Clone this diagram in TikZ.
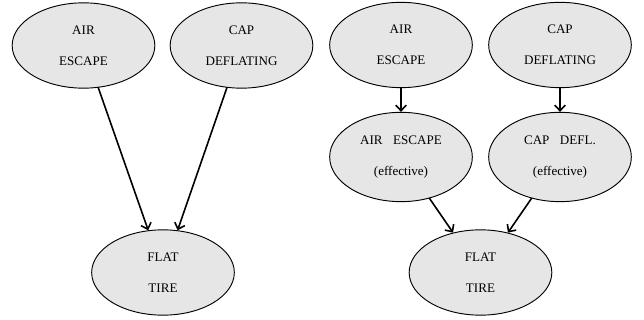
\documentclass[tikz,border=0pt]{standalone}
\usepackage{fontspec}
\setmainfont{Liberation Serif}
\usetikzlibrary{arrows.meta,shapes.geometric}
\definecolor{nodefill}{RGB}{230,230,230}

\begin{document}
\begin{tikzpicture}[x=.75pt,y=-.75pt,line cap=round,line join=round,
    >={Straight Barb[length=4.2pt,width=8pt]},
    font=\fontsize{9.8}{11}\selectfont,
    event/.style={ellipse,draw=black,line width=.7pt,fill=nodefill,
      minimum width=107pt,minimum height=64pt,inner sep=0pt,align=center},
    cause/.style={->,line width=1.2pt}]
  \useasboundingbox (0,0) rectangle (644,320);

  % network without effective nodes
  \node[event] (AirL)  at (83.5,45.5)  {AIR\\[12pt]ESCAPE};
  \node[event] (CapL)  at (241.5,45.5) {CAP\\[12pt]DEFLATING};
  \node[event] (FlatL) at (163,272.5)  {FLAT\\[12pt]TIRE};
  \draw[cause] (AirL) -- (FlatL);
  \draw[cause] (CapL) -- (FlatL);

  % network with effective nodes
  \node[event] (AirR)   at (401,45)     {AIR\\[12pt]ESCAPE};
  \node[event] (CapR)   at (560,45)     {CAP\\[12pt]DEFLATING};
  \node[event,minimum height=67pt] (AirEff) at (401,157) {AIR\hspace{.8em}ESCAPE\\[12.5pt](effective)};
  \node[event,minimum height=67pt] (CapEff) at (560,157) {CAP\hspace{.8em}DEFL.\\[12.5pt](effective)};
  \node[event] (FlatR)  at (480.5,272.5) {FLAT\\[12pt]TIRE};
  \draw[cause] (AirR) -- (AirEff);
  \draw[cause] (CapR) -- (CapEff);
  \draw[cause] (AirEff) -- (FlatR);
  \draw[cause] (CapEff) -- (FlatR);
\end{tikzpicture}
\end{document}
